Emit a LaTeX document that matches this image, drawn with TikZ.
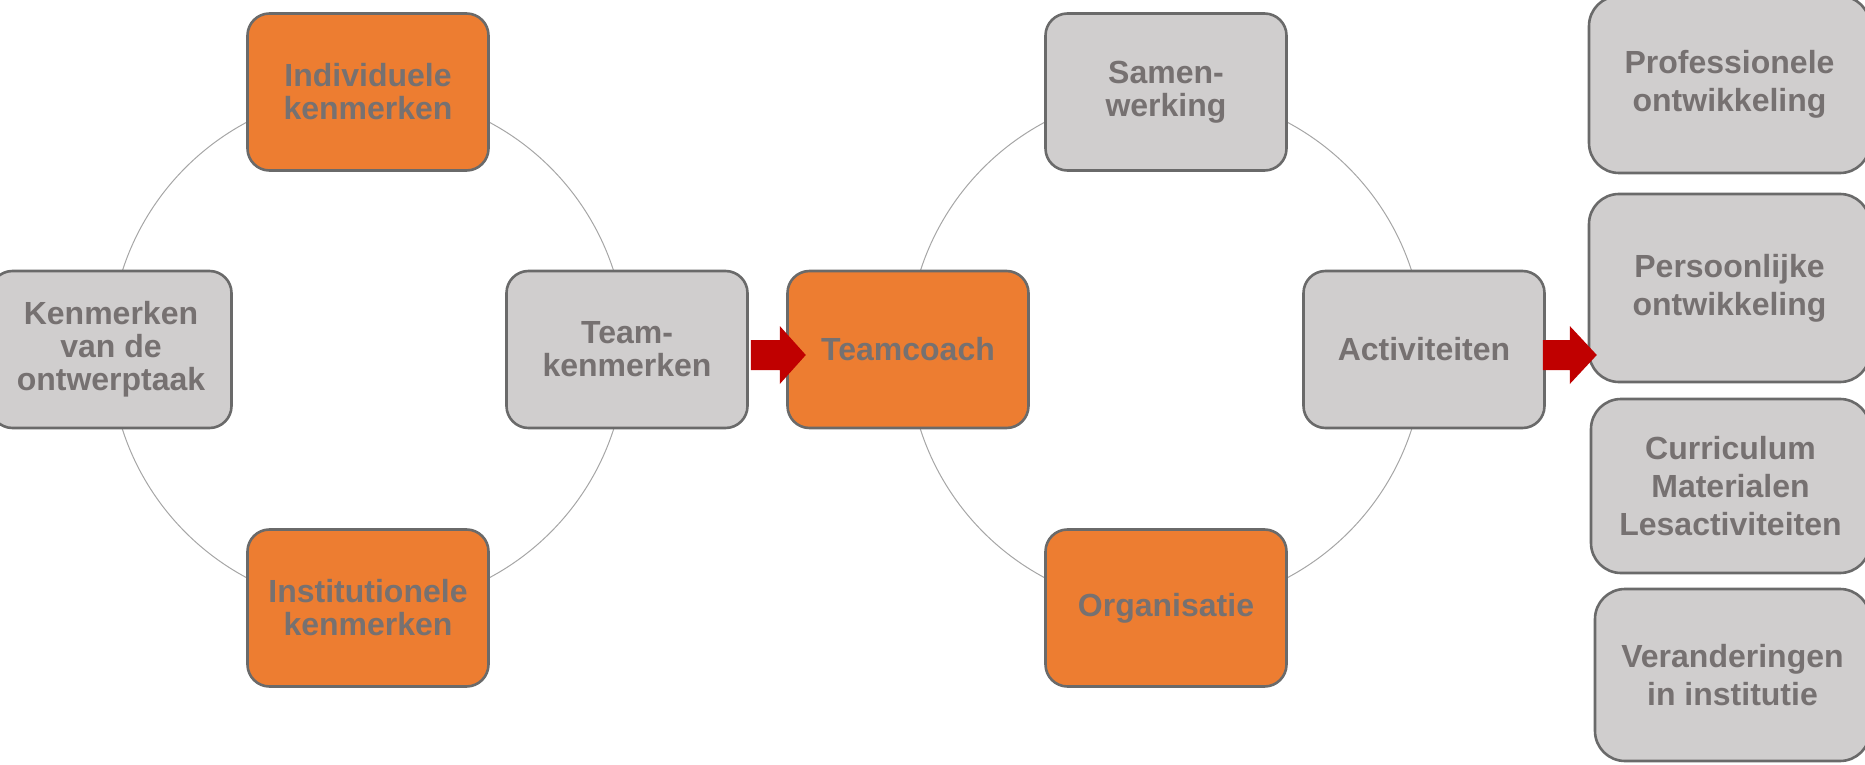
\documentclass[tikz,border=0pt]{standalone}
\usepackage{fontspec}
\setmainfont{Liberation Sans}
\usetikzlibrary{calc}
\definecolor{boxorange}{HTML}{ED7D31}
\definecolor{boxgrey}{HTML}{D0CECE}
\definecolor{boxline}{HTML}{6A6A6A}
\definecolor{txtgrey}{HTML}{767171}
\definecolor{ringgrey}{HTML}{A6A6A6}
\definecolor{arrowred}{HTML}{C00000}
\tikzset{
  box/.style={draw=boxline, line width=1.3pt, rounded corners=11pt,
    minimum width=120.5pt, minimum height=78.5pt, align=center,
    text=txtgrey, font=\fontsize{16pt}{16.5pt}\selectfont\bfseries, inner sep=0pt},
  obox/.style={box, fill=boxorange},
  gbox/.style={box, fill=boxgrey},
  rbox/.style={draw=boxline, line width=1.3pt, rounded corners=15pt, fill=boxgrey,
    minimum width=140.5pt, align=center, text=txtgrey,
    font=\fontsize{16pt}{19pt}\selectfont\bfseries, inner sep=0pt},
  ring/.style={draw=ringgrey, line width=0.5pt},
  blockarrow/.style={fill=arrowred}
}
\begin{document}
\begin{tikzpicture}[x=0.5pt,y=-0.5pt]
\useasboundingbox (0,0) rectangle (1865,765);
\clip (0,0) rectangle (1865,765);
% rings
\draw[ring] (368,350) circle[radius=129pt];
\draw[ring] (1166,350) circle[radius=129pt];
% left cycle
\node[obox] (ind)  at (368,92)    {Individuele\\kenmerken};
\node[gbox] (ken)  at (111,349.5) {Kenmerken\\van de\\ontwerptaak};
\node[gbox] (team) at (627,349.5) {Team-\\kenmerken};
\node[obox] (inst) at (368,608)   {Institutionele\\kenmerken};
% right cycle
\node[obox] (coach) at (908,349.5)  {Teamcoach};
\node[gbox] (samen) at (1166,92)    {Samen-\\werking};
\node[gbox] (act)   at (1424,349.5) {Activiteiten};
\node[obox] (org)   at (1166,608)   {Organisatie};
% outcome column
\node[rbox, minimum height=88.5pt] (prof) at (1729.5,84.5) {Professionele\\ontwikkeling};
\node[rbox, minimum height=94pt]   (pers) at (1729.5,288)  {Persoonlijke\\ontwikkeling};
\node[rbox, minimum height=87pt, minimum width=139.5pt] (curr) at (1730.5,486) {Curriculum\\Materialen\\Lesactiviteiten};
\node[rbox, minimum height=86pt, minimum width=137.5pt] (ver)  at (1732.5,675) {Veranderingen\\in institutie};
% block arrows
\fill[blockarrow] ($(team.east)+(2,-9.5)$) -- ($(team.east)+(31,-9.5)$) -- ($(team.east)+(31,-23.5)$)
  -- ($(team.east)+(57,5.5)$) -- ($(team.east)+(31,34.5)$) -- ($(team.east)+(31,20.5)$)
  -- ($(team.east)+(2,20.5)$) -- cycle;
\fill[blockarrow] ($(act.east)+(-3,-9.5)$) -- ($(act.east)+(24,-9.5)$) -- ($(act.east)+(24,-23.5)$)
  -- ($(act.east)+(51,5.5)$) -- ($(act.east)+(24,34.5)$) -- ($(act.east)+(24,20.5)$)
  -- ($(act.east)+(-3,20.5)$) -- cycle;
\end{tikzpicture}
\end{document}
